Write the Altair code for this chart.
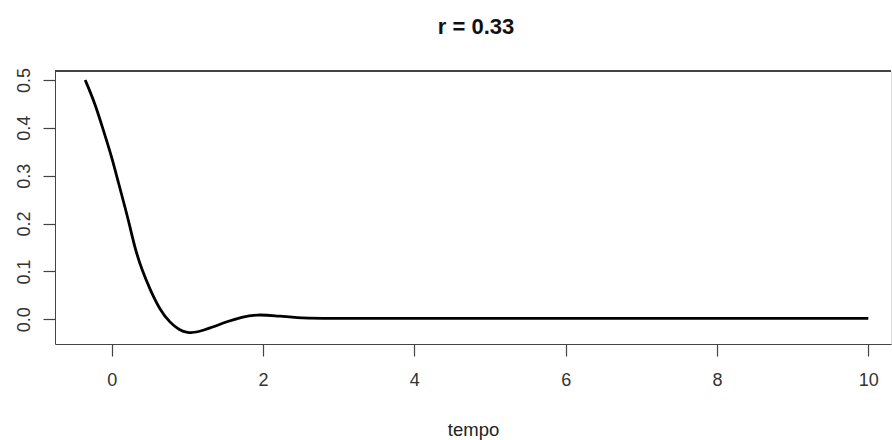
import altair as alt
import pandas as pd

# values
tempo = [-0.35, -0.22, -0.11, 0.0, 0.09, 0.18, 0.24, 0.31, 0.40, 0.51, 0.64,
         0.77, 0.90, 1.00, 1.12, 1.34, 1.52, 1.72, 1.92, 2.14, 2.49, 3.0,
         4.0, 6.0, 8.0, 10.0]
valor = [0.500, 0.451, 0.395, 0.340, 0.285, 0.232, 0.195, 0.147, 0.103, 0.061,
         0.019, -0.007, -0.023, -0.028, -0.028, -0.016, -0.005, 0.005, 0.010,
         0.008, 0.002, 0.002, 0.002, 0.002, 0.002, 0.002]
x_ticks = [0, 2, 4, 6, 8, 10]
y_ticks = [0.0, 0.1, 0.2, 0.3, 0.4, 0.5]
x_domain = [-0.749, 10.30]
y_domain = [-0.0516, 0.5188]

df = pd.DataFrame({"tempo": tempo, "valor": valor})

W, H = 836, 273
FONT = "Liberation Sans, Arial, Helvetica"
AX = "#444444"

line = alt.Chart(df).mark_line(color="black", strokeWidth=2.8, interpolate="basis").encode(
    x=alt.X("tempo:Q",
            scale=alt.Scale(domain=x_domain, nice=False, zero=False),
            axis=alt.Axis(values=x_ticks, format="d", title="tempo", grid=False,
                          domainColor=AX, tickColor=AX, tickSize=12, tickWidth=1.2,
                          labelFont=FONT, labelFontSize=18, labelColor="#333333",
                          labelPadding=15, labelFlush=False,
                          titleFont=FONT, titleFontSize=18.5, titleFontWeight="normal",
                          titleColor="#222222", titlePadding=31)),
    y=alt.Y("valor:Q",
            scale=alt.Scale(domain=y_domain, nice=False, zero=False),
            axis=alt.Axis(values=y_ticks, format=".1f", title=None, grid=False,
                          domainColor=AX, tickColor=AX, tickSize=12, tickWidth=1.2,
                          labelFont=FONT, labelFontSize=18, labelColor="#333333",
                          labelAngle=-90, labelAlign="center", labelBaseline="bottom",
                          labelPadding=10, labelFlush=False)),
)

top = alt.Chart(df).mark_rule(color=AX, strokeWidth=1.2).encode(
    x=alt.value(0), x2=alt.value(W), y=alt.value(0)
)

chart = alt.layer(top, line).properties(
    width=W, height=H,
    title=alt.TitleParams("r = 0.33", font=FONT, fontSize=22, fontWeight="bold",
                          color="#111111", anchor="middle", offset=6,
                          baseline="bottom", dx=3),
    autosize=alt.AutoSizeParams(type="none"),
    padding={"left": 55, "top": 71, "right": 1, "bottom": 96},
).configure_view(stroke=None).configure(background="white")

chart.save("out.html", embed_options={"renderer": "svg", "actions": False})
